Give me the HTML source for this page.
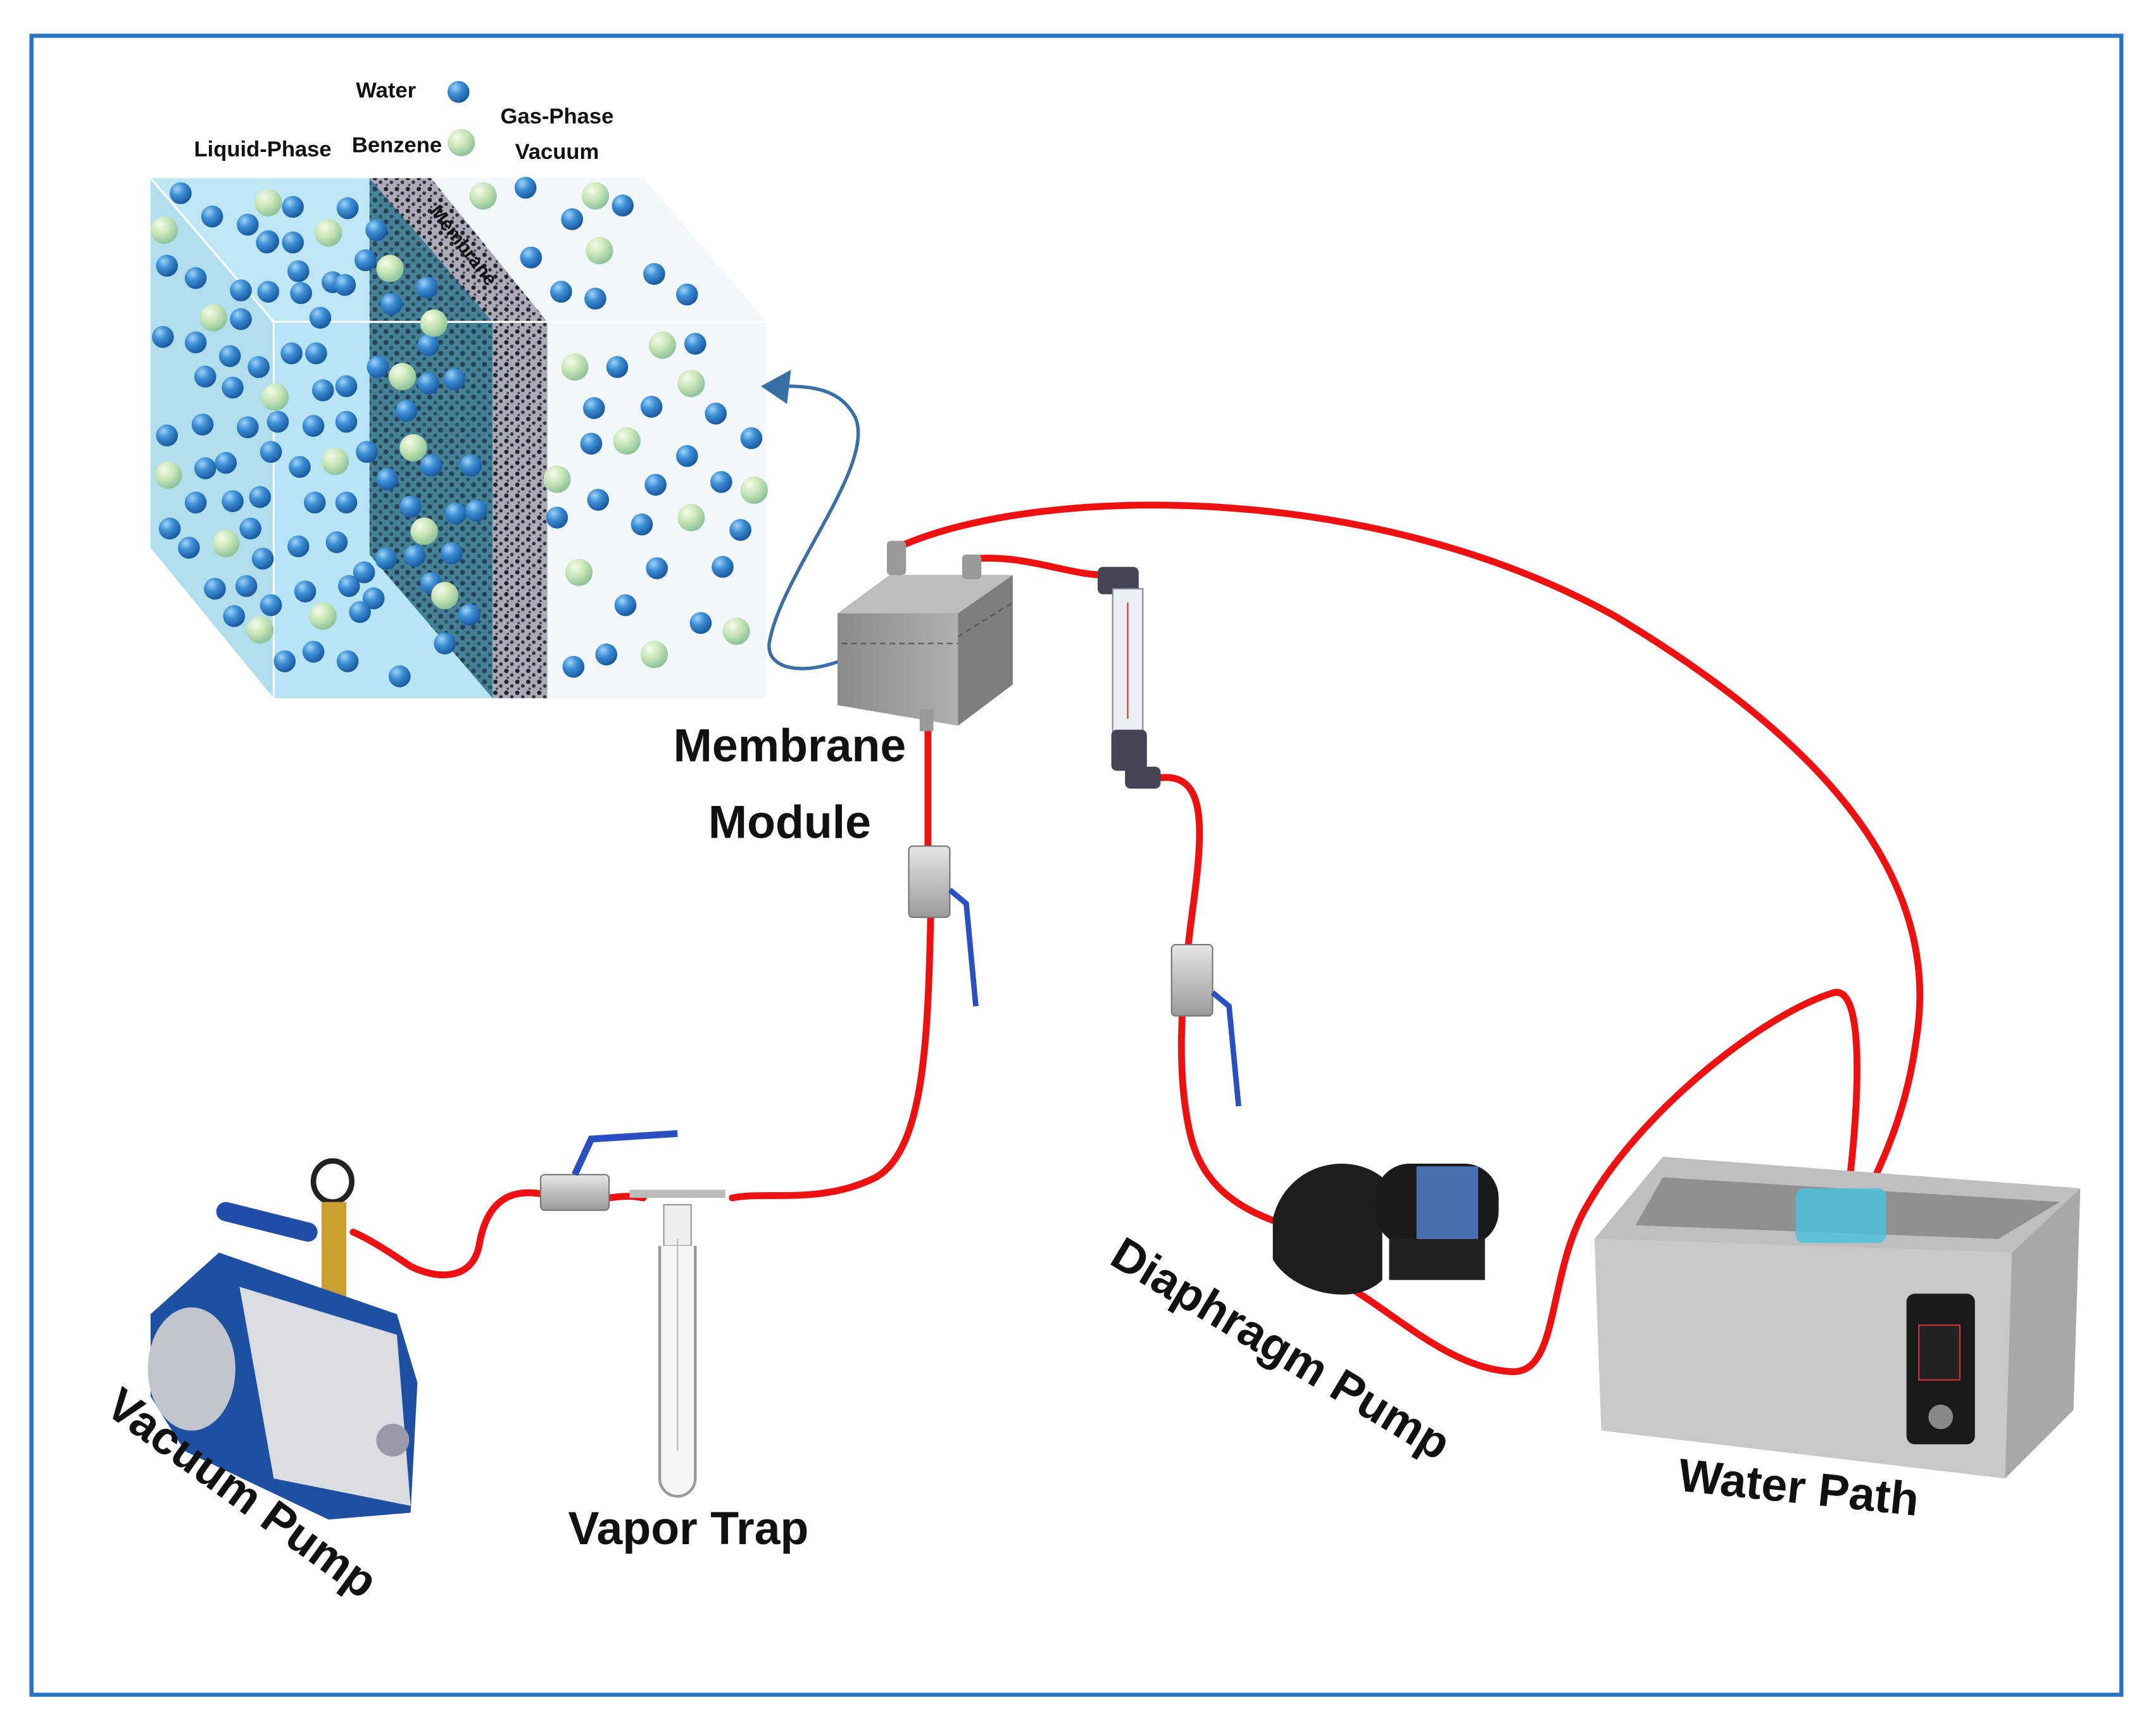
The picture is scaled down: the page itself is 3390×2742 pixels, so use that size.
<!DOCTYPE html>
<html><head><meta charset="utf-8">
<style>
html,body{margin:0;padding:0;background:#fff;}
svg{display:block;}
text{font-family:"Liberation Sans",sans-serif;font-weight:bold;fill:#111;}
</style></head>
<body>
<svg width="3390" height="2742" viewBox="0 0 1568 1268" xmlns="http://www.w3.org/2000/svg">
<defs>
<radialGradient id="bb" cx="35%" cy="30%" r="70%"><stop offset="0" stop-color="#9fd3f7"/><stop offset="0.45" stop-color="#3d8fd6"/><stop offset="1" stop-color="#1a5aa0"/></radialGradient>
<radialGradient id="gb" cx="35%" cy="30%" r="70%"><stop offset="0" stop-color="#f4fbe9"/><stop offset="0.5" stop-color="#c9e6b8"/><stop offset="1" stop-color="#8fc39a"/></radialGradient>
<pattern id="foam" width="8" height="8" patternUnits="userSpaceOnUse"><rect width="8" height="8" fill="#aab"/><circle cx="2" cy="2" r="1.6" fill="#222"/><circle cx="6" cy="5" r="1.3" fill="#333"/><circle cx="3" cy="7" r="0.9" fill="#444"/></pattern>
<pattern id="foam2" width="8" height="8" patternUnits="userSpaceOnUse"><rect width="8" height="8" fill="#2f6f86"/><circle cx="2" cy="2" r="1.8" fill="#123"/><circle cx="6" cy="6" r="1.4" fill="#153040"/></pattern>
<linearGradient id="metal" x1="0" y1="0" x2="0" y2="1"><stop offset="0" stop-color="#e6e6e6"/><stop offset="1" stop-color="#9a9a9a"/></linearGradient>
<linearGradient id="grey" x1="0" y1="0" x2="1" y2="0"><stop offset="0" stop-color="#8a8a8a"/><stop offset="1" stop-color="#b0b0b0"/></linearGradient>
</defs>

<rect x="23" y="26" width="1527" height="1212" fill="#fff" stroke="#2a74c4" stroke-width="3"/>

<!-- cube -->
<polygon points="110,130 275,130 365,235 365,510 200,510 110,400" fill="#bfe6f5"/>
<polygon points="200,235 365,235 365,510 200,510" fill="#b2e4f6" opacity="0.6"/>
<polygon points="110,130 200,235 200,510 110,400" fill="#a8d8e8" opacity="0.6"/>
<polygon points="270,130 315,130 400,235 400,510 360,510 360,235" fill="url(#foam)"/>
<polygon points="270,130 360,235 360,510 270,405" fill="url(#foam2)" opacity="0.85"/>
<polygon points="315,130 470,130 560,235 560,510 400,510 400,235" fill="#f2f7fc"/>
<polyline points="110,130 200,235 560,235" fill="none" stroke="#fff" stroke-width="1.5"/>
<line x1="200" y1="235" x2="200" y2="510" stroke="#fff" stroke-width="1.5"/>
<text x="335" y="182" font-size="14" transform="rotate(52 335 182)" text-anchor="middle">Membrane</text>

<g id="balls">
<g fill="url(#bb)">
<circle cx="132" cy="141" r="8"/><circle cx="155" cy="158" r="8"/><circle cx="181" cy="164" r="8"/><circle cx="196" cy="176" r="8"/><circle cx="214" cy="151" r="8"/><circle cx="254" cy="152" r="8"/><circle cx="195" cy="177" r="8"/><circle cx="214" cy="177" r="8"/><circle cx="122" cy="194" r="8"/><circle cx="143" cy="203" r="8"/><circle cx="176" cy="212" r="8"/><circle cx="196" cy="213" r="8"/><circle cx="220" cy="214" r="8"/><circle cx="243" cy="206" r="8"/><circle cx="252" cy="208" r="8"/><circle cx="218" cy="198" r="8"/><circle cx="234" cy="232" r="8"/><circle cx="176" cy="233" r="8"/><circle cx="119" cy="246" r="8"/><circle cx="143" cy="250" r="8"/><circle cx="168" cy="260" r="8"/><circle cx="189" cy="268" r="8"/><circle cx="150" cy="275" r="8"/><circle cx="170" cy="283" r="8"/><circle cx="213" cy="258" r="8"/><circle cx="231" cy="258" r="8"/><circle cx="236" cy="285" r="8"/><circle cx="253" cy="282" r="8"/><circle cx="122" cy="318" r="8"/><circle cx="148" cy="310" r="8"/><circle cx="181" cy="312" r="8"/><circle cx="203" cy="308" r="8"/><circle cx="229" cy="311" r="8"/><circle cx="253" cy="308" r="8"/><circle cx="150" cy="342" r="8"/><circle cx="165" cy="338" r="8"/><circle cx="198" cy="330" r="8"/><circle cx="219" cy="341" r="8"/><circle cx="143" cy="367" r="8"/><circle cx="170" cy="366" r="8"/><circle cx="190" cy="363" r="8"/><circle cx="230" cy="367" r="8"/><circle cx="253" cy="367" r="8"/><circle cx="124" cy="386" r="8"/><circle cx="138" cy="400" r="8"/><circle cx="183" cy="386" r="8"/><circle cx="218" cy="399" r="8"/><circle cx="246" cy="396" r="8"/><circle cx="192" cy="408" r="8"/><circle cx="157" cy="430" r="8"/><circle cx="180" cy="428" r="8"/><circle cx="223" cy="432" r="8"/><circle cx="255" cy="428" r="8"/><circle cx="273" cy="437" r="8"/><circle cx="171" cy="450" r="8"/><circle cx="198" cy="442" r="8"/><circle cx="263" cy="447" r="8"/><circle cx="208" cy="483" r="8"/><circle cx="229" cy="476" r="8"/><circle cx="254" cy="483" r="8"/><circle cx="292" cy="494" r="8"/><circle cx="266" cy="418" r="8"/><circle cx="275" cy="168" r="8"/><circle cx="267" cy="190" r="8"/><circle cx="286" cy="222" r="8"/><circle cx="312" cy="210" r="8"/><circle cx="276" cy="268" r="8"/><circle cx="313" cy="252" r="8"/><circle cx="297" cy="300" r="8"/><circle cx="332" cy="277" r="8"/><circle cx="313" cy="280" r="8"/><circle cx="283" cy="350" r="8"/><circle cx="315" cy="340" r="8"/><circle cx="344" cy="340" r="8"/><circle cx="268" cy="330" r="8"/><circle cx="300" cy="370" r="8"/><circle cx="333" cy="375" r="8"/><circle cx="348" cy="373" r="8"/><circle cx="282" cy="408" r="8"/><circle cx="303" cy="406" r="8"/><circle cx="330" cy="404" r="8"/><circle cx="315" cy="426" r="8"/><circle cx="343" cy="449" r="8"/><circle cx="325" cy="470" r="8"/>
<circle cx="384" cy="137" r="8"/><circle cx="418" cy="160" r="8"/><circle cx="455" cy="150" r="8"/><circle cx="388" cy="188" r="8"/><circle cx="410" cy="213" r="8"/><circle cx="435" cy="218" r="8"/><circle cx="478" cy="200" r="8"/><circle cx="502" cy="215" r="8"/><circle cx="508" cy="251" r="8"/><circle cx="451" cy="268" r="8"/><circle cx="434" cy="298" r="8"/><circle cx="476" cy="297" r="8"/><circle cx="523" cy="302" r="8"/><circle cx="432" cy="324" r="8"/><circle cx="502" cy="333" r="8"/><circle cx="549" cy="320" r="8"/><circle cx="407" cy="378" r="8"/><circle cx="437" cy="365" r="8"/><circle cx="479" cy="354" r="8"/><circle cx="527" cy="352" r="8"/><circle cx="469" cy="383" r="8"/><circle cx="541" cy="387" r="8"/><circle cx="480" cy="415" r="8"/><circle cx="528" cy="414" r="8"/><circle cx="457" cy="442" r="8"/><circle cx="512" cy="455" r="8"/><circle cx="419" cy="487" r="8"/><circle cx="443" cy="478" r="8"/>
<circle cx="335" cy="67" r="8"/>
</g>
<g fill="url(#gb)">
<circle cx="196" cy="148" r="10"/><circle cx="240" cy="170" r="10"/><circle cx="120" cy="168" r="10"/><circle cx="156" cy="232" r="10"/><circle cx="201" cy="290" r="10"/><circle cx="245" cy="337" r="10"/><circle cx="123" cy="347" r="10"/><circle cx="165" cy="397" r="10"/><circle cx="190" cy="460" r="10"/><circle cx="236" cy="450" r="10"/><circle cx="285" cy="196" r="10"/><circle cx="317" cy="236" r="10"/><circle cx="294" cy="275" r="10"/><circle cx="302" cy="327" r="10"/><circle cx="310" cy="388" r="10"/><circle cx="325" cy="435" r="10"/>
<circle cx="353" cy="143" r="10"/><circle cx="435" cy="143" r="10"/><circle cx="438" cy="183" r="10"/><circle cx="420" cy="268" r="10"/><circle cx="484" cy="252" r="10"/><circle cx="505" cy="280" r="10"/><circle cx="458" cy="322" r="10"/><circle cx="407" cy="350" r="10"/><circle cx="551" cy="358" r="10"/><circle cx="505" cy="378" r="10"/><circle cx="423" cy="418" r="10"/><circle cx="538" cy="461" r="10"/><circle cx="478" cy="478" r="10"/>
<circle cx="337" cy="104" r="10"/>
</g>
</g>

<text x="282" y="71" font-size="16" text-anchor="middle">Water</text>
<text x="192" y="114" font-size="16" text-anchor="middle">Liquid-Phase</text>
<text x="290" y="111" font-size="16" text-anchor="middle">Benzene</text>
<text x="407" y="90" font-size="16" text-anchor="middle">Gas-Phase</text>
<text x="407" y="116" font-size="16" text-anchor="middle">Vacuum</text>

<!-- blue arrow -->
<path d="M625,478 C590,495 560,490 562,470 C570,420 640,340 625,305 C615,285 595,282 575,282" fill="none" stroke="#3a6fa5" stroke-width="2.5"/>
<polygon points="556,282 578,270 575,295" fill="#3a6fa5"/>

<!-- red tubes -->
<g fill="none" stroke="#ee1111" stroke-width="5" stroke-linecap="round">
<path d="M660,398 C760,355 1000,350 1180,450 C1330,540 1420,640 1400,760 C1392,820 1370,860 1355,890"/>
<path d="M712,408 C750,405 780,420 808,420"/>
<path d="M848,568 C880,565 880,600 872,660 C864,720 858,780 870,830 C880,870 910,885 940,895"/>
<path d="M985,940 C1020,960 1060,1000 1105,1002 C1140,1003 1130,930 1160,880 C1200,810 1290,740 1340,725 C1362,720 1360,800 1348,890"/>
<path d="M678,530 L678,620 M680,670 C678,760 675,840 640,860 C600,880 560,870 535,875"/>
<path d="M470,875 C455,872 445,876 440,875 M395,872 C370,868 355,880 350,910 C345,935 320,935 300,925 C285,915 270,905 258,900"/>
</g>

<!-- membrane module -->
<polygon points="612,448 650,420 740,420 740,500 700,530 612,515" fill="#7d7d7d"/>
<polygon points="612,448 700,448 700,530 612,515" fill="url(#grey)"/>
<polygon points="612,448 650,420 740,420 700,448" fill="#bdbdbd"/>
<line x1="615" y1="470" x2="700" y2="470" stroke="#555" stroke-dasharray="4 3"/>
<line x1="700" y1="465" x2="740" y2="440" stroke="#555" stroke-dasharray="4 3"/>
<rect x="648" y="395" width="14" height="25" fill="#999" rx="3"/>
<rect x="703" y="405" width="14" height="18" fill="#999" rx="3"/>
<rect x="672" y="518" width="10" height="16" fill="#999"/>
<text x="577" y="556" font-size="34" text-anchor="middle" font-weight="normal" style="font-weight:bold">Membrane</text>
<text x="577" y="612" font-size="34" text-anchor="middle">Module</text>

<!-- rotameter -->
<rect x="802" y="414" width="30" height="20" fill="#445" rx="4"/>
<rect x="813" y="430" width="22" height="105" fill="#e8eef2" stroke="#889"/>
<line x1="824" y1="440" x2="824" y2="525" stroke="#c33" stroke-width="1"/>
<rect x="812" y="533" width="26" height="30" fill="#445" rx="4"/>
<rect x="822" y="560" width="26" height="16" fill="#445" rx="4"/>

<!-- valves -->
<g>
<rect x="664" y="618" width="30" height="52" fill="url(#metal)" stroke="#777" rx="3"/>
<path d="M694,650 L706,660 L713,735" stroke="#2a4fc0" stroke-width="4" fill="none"/>
<rect x="856" y="690" width="30" height="52" fill="url(#metal)" stroke="#777" rx="3"/>
<path d="M886,725 L898,735 L905,808" stroke="#2a4fc0" stroke-width="4" fill="none"/>
<rect x="395" y="858" width="50" height="26" fill="url(#metal)" stroke="#777" rx="3"/>
<path d="M420,858 L432,832 L495,828" stroke="#2a4fc0" stroke-width="5" fill="none"/>
</g>

<!-- vapor trap -->
<path d="M460,872 L530,872" stroke="#bbb" stroke-width="6" fill="none"/>
<rect x="485" y="880" width="20" height="30" fill="#eee" stroke="#999"/>
<path d="M482,910 L482,1080 A13,13 0 0 0 508,1080 L508,910" fill="#f6f6f6" stroke="#999" stroke-width="2"/>
<line x1="495" y1="905" x2="495" y2="1060" stroke="#bbb"/>
<text x="503" y="1128" font-size="34" text-anchor="middle">Vapor Trap</text>

<!-- vacuum pump -->
<ellipse cx="243" cy="863" rx="14" ry="15" fill="#fff" stroke="#222" stroke-width="4"/>
<rect x="235" y="878" width="18" height="70" fill="#c9a030"/>
<path d="M165,885 L225,900" stroke="#1f4da8" stroke-width="14" stroke-linecap="round"/>
<polygon points="110,960 160,915 290,960 305,1010 300,1105 240,1110 135,1060 110,1020" fill="#1e4fa0"/>
<polygon points="175,940 290,975 300,1100 200,1080" fill="#d9dde2"/>
<ellipse cx="140" cy="1000" rx="32" ry="45" fill="#c0c6cc"/>
<circle cx="287" cy="1052" r="12" fill="#99a"/>
<text x="170" y="1100" font-size="34" text-anchor="middle" transform="rotate(36 170 1100)">Vacuum Pump</text>

<!-- diaphragm pump -->
<path d="M930,890 C940,850 985,840 1010,860 L1010,935 C990,955 945,945 930,920 Z" fill="#1e1e1e"/>
<rect x="1005" y="850" width="90" height="60" rx="25" fill="#1a1a1a"/>
<rect x="1035" y="852" width="45" height="55" fill="#4a6fb0"/>
<rect x="1015" y="905" width="70" height="30" fill="#222"/>
<text x="930" y="995" font-size="34" text-anchor="middle" transform="rotate(31 930 995)">Diaphragm Pump</text>

<!-- water bath -->
<polygon points="1165,905 1215,845 1520,868 1470,915" fill="#bfbfbf"/>
<polygon points="1215,860 1505,878 1460,905 1195,895" fill="#8f8f8f"/>
<polygon points="1165,905 1470,915 1465,1080 1170,1045" fill="#c8c8c8"/>
<polygon points="1470,915 1520,868 1515,1030 1465,1080" fill="#a8a8a8"/>
<rect x="1312" y="868" width="66" height="40" rx="6" fill="#4cc1d8" opacity="0.85"/>
<rect x="1393" y="945" width="50" height="110" rx="6" fill="#1a1a1a"/>
<rect x="1402" y="968" width="30" height="40" fill="#222" stroke="#c33"/>
<circle cx="1418" cy="1035" r="9" fill="#888"/>
<text x="1313" y="1098" font-size="34" text-anchor="middle" transform="rotate(6 1313 1098)">Water Path</text>
</svg>
</body></html>
